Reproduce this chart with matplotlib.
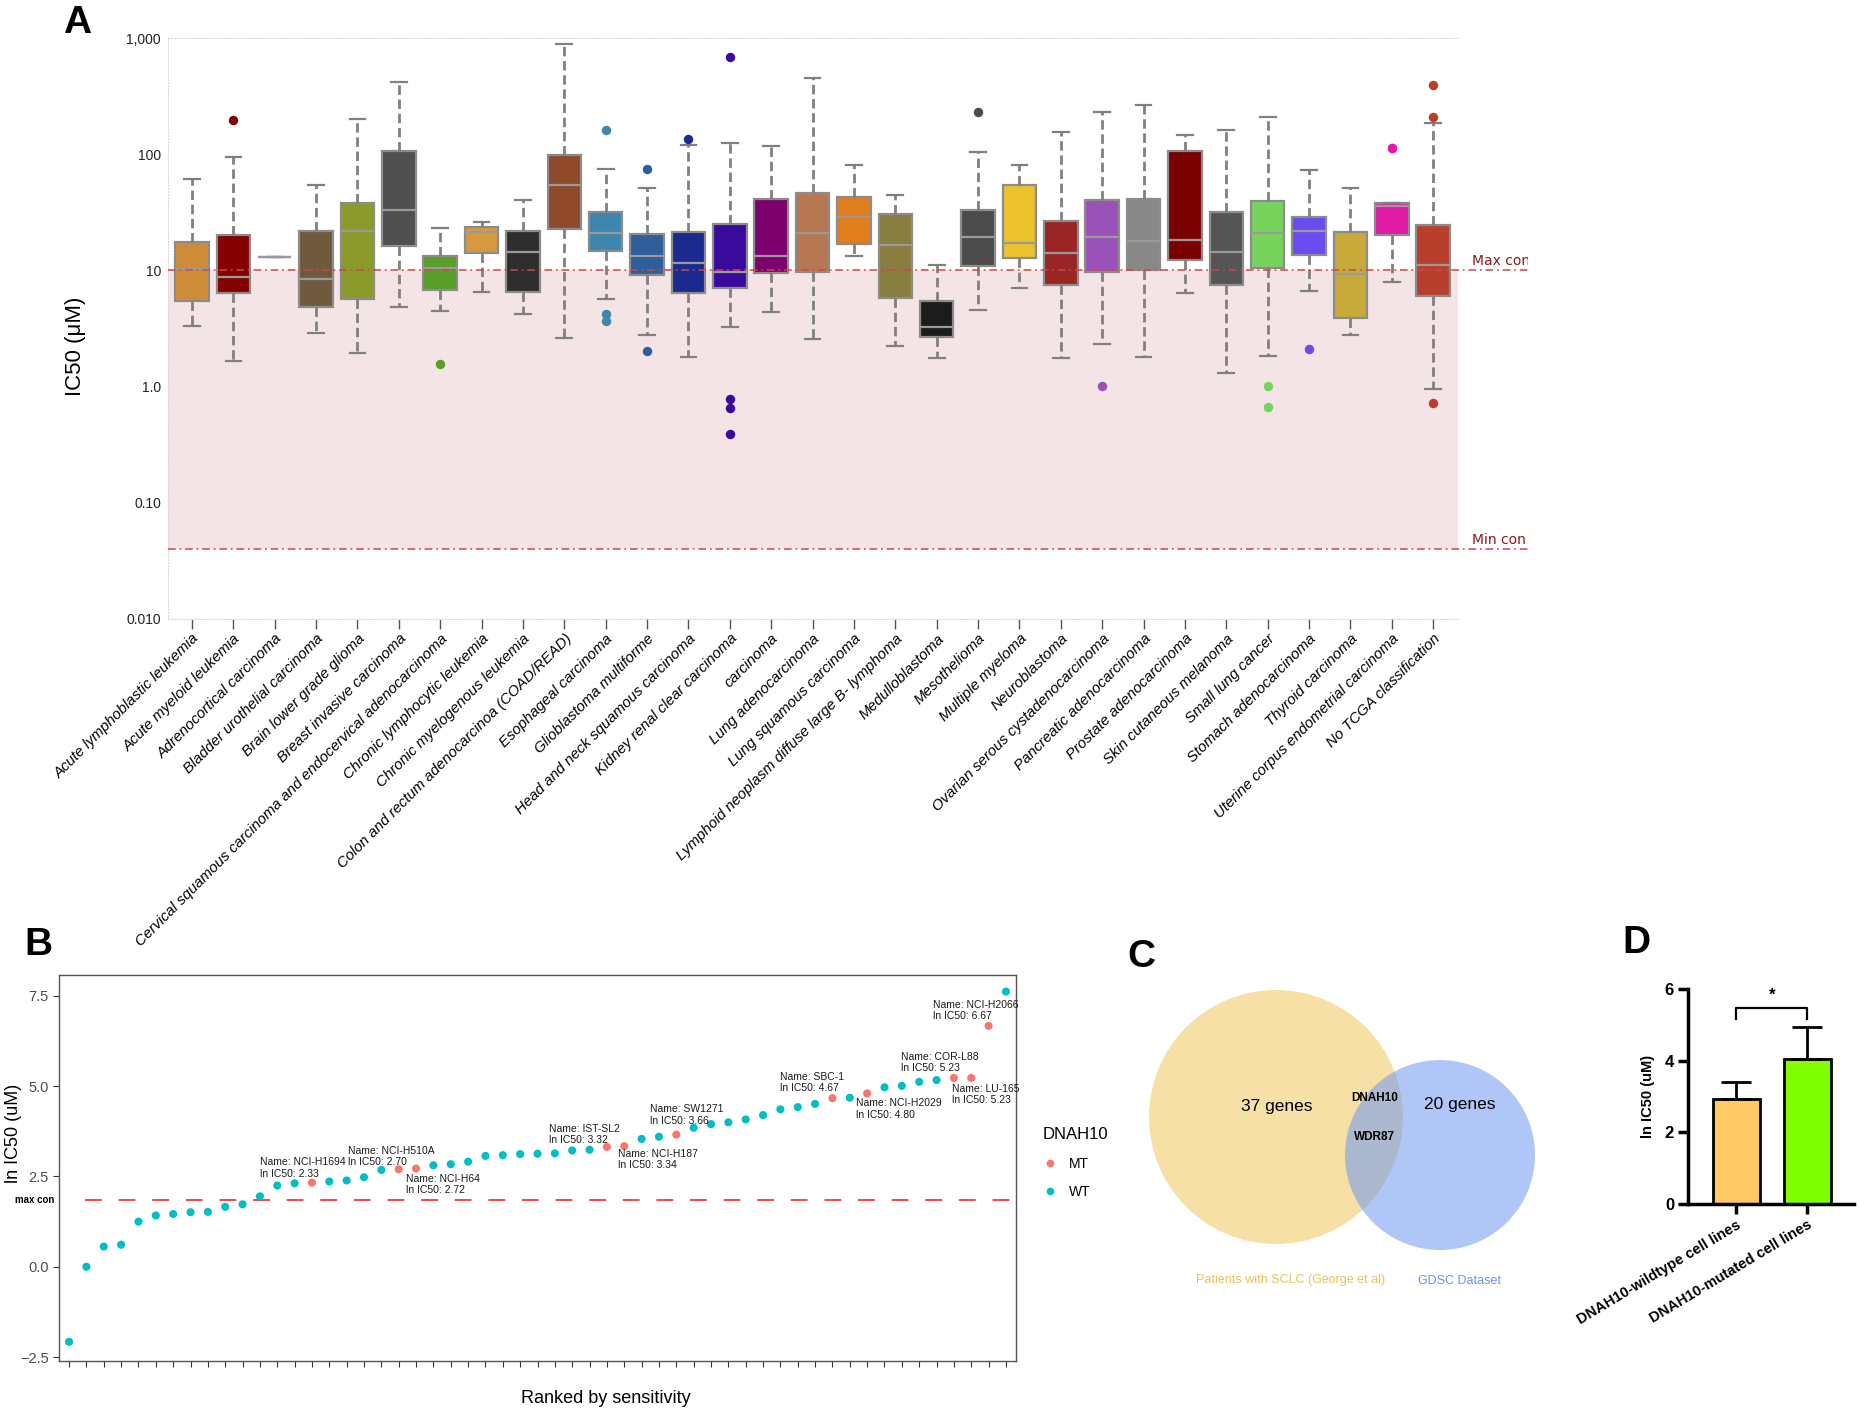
import numpy as np
import matplotlib
matplotlib.use("Agg")
import matplotlib.pyplot as plt
from matplotlib.patches import Circle
from matplotlib.lines import Line2D
from matplotlib.ticker import NullLocator
from matplotlib.transforms import Bbox, TransformedBbox, blended_transform_factory as blend

plt.rcParams['font.family'] = ['Liberation Sans', 'DejaVu Sans']

# ---------------- Panel A data (IC50, uM) ----------------
cancer_types = [
    "Acute lymphoblastic leukemia", "Acute myeloid leukemia", "Adrenocortical carcinoma",
    "Bladder urothelial carcinoma", "Brain lower grade glioma", "Breast invasive carcinoma",
    "Cervical squamous carcinoma and endocervical adenocarcinoma", "Chronic lymphocytic leukemia",
    "Chronic myelogenous leukemia", "Colon and rectum adenocarcinoa (COAD/READ)",
    "Esophageal carcinoma", "Glioblastoma multiforme", "Head and neck squamous carcinoma",
    "Kidney renal clear carcinoma", "carcinoma", "Lung adenocarcinoma", "Lung squamous carcinoma",
    "Lymphoid neoplasm diffuse large B- lymphoma", "Medulloblastoma", "Mesothelioma",
    "Multiple myeloma", "Neuroblastoma", "Ovarian serous cystadenocarcinoma",
    "Pancreatic adenocarcinoma", "Prostate adenocarcinoma", "Skin cutaneous melanoma",
    "Small lung cancer", "Stomach adenocarcinoma", "Thyroid carcinoma",
    "Uterine corpus endometrial carcinoma", "No TCGA classification",
]
whisker_low = [3.3, 1.67, 13.0, 2.88, 1.94, 4.89, 4.51, 6.53, 4.2, 2.64, 5.65, 2.77, 1.79, 3.24, 4.36,
               2.57, 13.3, 2.25, 1.76, 4.57, 7.07, 1.78, 2.31, 1.8, 6.4, 1.32, 1.84, 6.7, 2.8, 7.9, 0.96]
q1 = [5.5, 6.4, 13.0, 4.85, 5.72, 16.3, 6.75, 14.1, 6.5, 22.8, 14.7, 9.1, 6.45, 7.1, 9.46,
      9.7, 16.8, 5.8, 2.69, 11.0, 12.7, 7.5, 9.6, 10.0, 12.3, 7.5, 10.4, 13.5, 3.93, 20.0, 6.0]
median = [10.2, 8.7, 13.0, 8.5, 22.0, 33.2, 10.4, 21.3, 14.3, 53.8, 20.9, 13.2, 11.5, 9.6, 13.4,
          20.9, 28.9, 16.5, 3.29, 19.2, 17.3, 14.1, 19.2, 18.0, 18.2, 14.3, 20.9, 21.9, 9.27, 35.5, 11.2]
q3 = [17.7, 20.0, 13.0, 22.0, 37.7, 106, 13.4, 23.7, 21.7, 98, 31.9, 20.4, 21.6, 25.3, 41.3,
      45.9, 42.7, 30.7, 5.43, 33.0, 54.5, 26.5, 40.5, 41.3, 106, 31.7, 39.7, 28.9, 21.3, 38.4, 24.5]
whisker_high = [61.4, 93.8, 13.0, 54.2, 199, 418, 23.0, 26.0, 40.0, 888, 74.4, 51.0, 120, 124, 117,
                455, 80, 44.2, 11.2, 105, 81, 154, 232, 267, 147, 162, 209, 72.5, 51.4, 38.4, 185]
outliers = [[], [195], [], [], [], [], [1.56], [], [], [], [162, 4.2, 3.67], [75, 2.04], [135],
            [686, 0.78, 0.66, 0.39], [], [], [], [], [], [232], [], [], [1.02], [], [], [],
            [1.01, 0.67], [2.1], [], [112, 112], [396, 211, 0.72]]
box_colors = ["#CF8C37", "#850000", "#8C8C8C", "#705A3E", "#8B9A2B", "#505050", "#5A9E2A", "#D6993F",
              "#2E2E2E", "#8E4A2A", "#3E86AD", "#2F5E9C", "#1A2A8E", "#3A0A9C", "#7E006E", "#B87753",
              "#E07E1E", "#8A7E3E", "#1C1C1C", "#4B4B4B", "#EBC12E", "#9A2525", "#9A52B8", "#888888",
              "#7A0000", "#555555", "#78D25E", "#6A4CF0", "#C8AA3A", "#E01BA5", "#B83F2E"]
max_con_uM = 10.0
min_con_uM = 0.04

# ---------------- Panel B data ----------------
ln_ic50 = [-2.08, 0.00, 0.56, 0.61, 1.25, 1.42, 1.46, 1.51, 1.52, 1.66, 1.73, 1.95, 2.25, 2.31, 2.33,
           2.36, 2.39, 2.48, 2.68, 2.70, 2.72, 2.81, 2.84, 2.91, 3.07, 3.09, 3.12, 3.13, 3.14, 3.22,
           3.24, 3.32, 3.34, 3.54, 3.60, 3.66, 3.85, 3.95, 4.00, 4.08, 4.20, 4.36, 4.42, 4.51, 4.67,
           4.68, 4.80, 4.97, 5.01, 5.12, 5.17, 5.23, 5.23, 6.67, 7.62]
mt_ranks = [15, 20, 21, 32, 33, 36, 45, 47, 52, 53, 54]
mt_names = ["NCI-H1694", "NCI-H510A", "NCI-H64", "IST-SL2", "NCI-H187", "SW1271", "SBC-1",
            "NCI-H2029", "COR-L88", "LU-165", "NCI-H2066"]
max_con_ln = 1.84

# ---------------- Panel C data ----------------
venn_labels = ["Patients with SCLC (George et al)", "GDSC Dataset"]
venn_only = ["37 genes", "20 genes"]
venn_shared = ["DNAH10", "WDR87"]

# ---------------- Panel D data ----------------
groups = ["DNAH10-wildtype cell lines", "DNAH10-mutated cell lines"]
group_mean = [2.93, 4.05]
group_sd = [0.48, 0.89]
group_colors = ["#FFC966", "#7FFF00"]

W, H = 1859, 1411
fig = plt.figure(figsize=(W / 100, H / 100), dpi=100)


def ax_px(left, top, right, bottom):
    return fig.add_axes([left / W, 1 - bottom / H, (right - left) / W, (bottom - top) / H])


# =============== Panel A ===============
n = len(cancer_types)
ax = ax_px(168, 38, 1458, 619)
ax.set_yscale('log')
ax.set_ylim(0.01, 1000)
ax.set_xlim(-0.58, n - 1 + 0.6)
ax.axhspan(min_con_uM, max_con_uM, facecolor='#F5E4E6', edgecolor='none', zorder=0)
stats = [dict(med=median[i], q1=q1[i], q3=q3[i], whislo=whisker_low[i], whishi=whisker_high[i],
              fliers=outliers[i]) for i in range(n)]
bp = ax.bxp(stats, positions=np.arange(n), widths=0.81, capwidths=0.38, patch_artist=True,
            showfliers=True, manage_ticks=False,
            boxprops=dict(edgecolor='#8C8C8C', linewidth=1.6),
            whiskerprops=dict(color='#808080', linewidth=2.0, linestyle=(0, (3.4, 1.7))),
            capprops=dict(color='#808080', linewidth=1.6),
            medianprops=dict(color='#9A9A9A', linewidth=1.6),
            flierprops=dict(marker='o', markersize=6.8, markeredgewidth=0, linestyle='none'))
for patch, c in zip(bp['boxes'], box_colors):
    patch.set_facecolor(c)
for fl, c in zip(bp['fliers'], box_colors):
    fl.set_markerfacecolor(c)
    fl.set_markeredgecolor(c)

tr = blend(ax.transAxes, ax.transData)
line_end = (1528 - 168) / (1458 - 168)
clipbox = TransformedBbox(Bbox.from_extents(0, 0, 1528 / W, 1), fig.transFigure)
for val, lab in [(max_con_uM, 'Max con'), (min_con_uM, 'Min con')]:
    ax.plot([0, line_end], [val, val], transform=tr, clip_on=False, color='#C8484F', lw=1.1,
            linestyle=(0, (5, 2.5, 1.2, 2.5)), zorder=3)
    t = ax.annotate(lab, xy=(1.011, val), xycoords=tr, xytext=(0, 5), textcoords='offset pixels',
                    ha='left', va='baseline', fontsize=10, color='#8B1A1A',
                    family='DejaVu Sans', annotation_clip=False)
    t.set_clip_on(True)
    t.set_clip_box(clipbox)

for s in ['left', 'top', 'bottom']:
    ax.spines[s].set(color='#D9D9D9', linestyle=':', linewidth=0.8)
ax.spines['right'].set_visible(False)
ax.set_yticks([0.01, 0.1, 1, 10, 100, 1000], ["0.010", "0.10", "1.0", "10", "100", "1,000"])
ax.yaxis.set_minor_locator(NullLocator())
ax.tick_params(axis='y', length=0, pad=5, labelsize=10, labelcolor='#222222')
ax.set_xticks(np.arange(n))
ax.set_xticklabels(cancer_types, rotation=45, ha='right', va='top', rotation_mode='anchor',
                   fontstyle='italic', fontsize=10.8)
ax.tick_params(axis='x', length=7, width=1, color='#555555', pad=2)
ax.set_ylabel('IC50 (μM)', fontsize=16)
ax.yaxis.set_label_coords(-0.0636, 0.47)

# =============== Panel B ===============
ranks = np.arange(1, len(ln_ic50) + 1)
status = ['MT' if r in mt_ranks else 'WT' for r in ranks]
cmap = {'MT': '#F8766D', 'WT': '#00BFC4'}
axb = ax_px(59, 975, 1016, 1361)
axb.scatter(ranks, ln_ic50, c=[cmap[s] for s in status], s=34, linewidths=0, zorder=3)
axb.set_xlim(0.42, len(ln_ic50) + 0.58)
axb.set_ylim(-2.61, 8.08)
axb.axhline(max_con_ln, xmin=0.027, xmax=1, color='#E41A1C', lw=1.1, linestyle=(0, (11, 11)), zorder=2)
trb = blend(axb.transAxes, axb.transData)
axb.text(-0.005, max_con_ln, 'max con', transform=trb, ha='right', va='center', fontsize=7,
         fontweight='bold')
axb.set_xticks(ranks)
axb.set_xticklabels([])
axb.set_yticks([-2.5, 0, 2.5, 5, 7.5], ["\u22122.5", "0.0", "2.5", "5.0", "7.5"])
axb.tick_params(axis='both', length=4, width=0.8, color='#333333', labelsize=10.5,
                labelcolor='#4D4D4D')
for s in axb.spines.values():
    s.set(color='#555555', linewidth=1)
axb.set_ylabel('ln IC50 (uM)', fontsize=13)
axb.yaxis.set_label_coords(-0.039, 0.59)
axb.set_xlabel('Ranked by sensitivity', fontsize=13, labelpad=12)
axb.xaxis.set_label_coords(0.571, -0.075)

anno_layout = [(-52, 4, 'bottom'), (-51, 2, 'bottom'), (-10, -5, 'top'), (-58, 2, 'bottom'),
               (-6, -3, 'top'), (-26, 9, 'bottom'), (-52, 5, 'bottom'), (-11, -5, 'top'),
               (-53, 5, 'bottom'), (-19, -6, 'top'), (-56, 5, 'bottom')]
for r, nm, (dx, dy, va) in zip(mt_ranks, mt_names, anno_layout):
    v = ln_ic50[r - 1]
    axb.annotate(f"Name: {nm}\nln IC50: {v:.2f}", xy=(r, v), xytext=(dx, dy),
                 textcoords='offset pixels', ha='left', va=va, fontsize=7.5, linespacing=1.15,
                 color='#1A1A1A')

handles = [Line2D([], [], marker='o', linestyle='none', markersize=5.5, markeredgewidth=0,
                  markerfacecolor=cmap[k]) for k in ['MT', 'WT']]
axb.legend(handles, ['MT', 'WT'], title='DNAH10', loc='upper left',
           bbox_to_anchor=(1036 / W, 1 - 1120 / H), bbox_transform=fig.transFigure,
           frameon=False, fontsize=10, title_fontsize=12, handletextpad=0.9, labelspacing=1.05,
           borderpad=0, handlelength=1.0, alignment='left')

# =============== Panel C ===============
axc = ax_px(1100, 930, 1600, 1300)
axc.set_xlim(1100, 1600)
axc.set_ylim(1300, 930)
axc.axis('off')
axc.add_patch(Circle((1276, 1117), 127, facecolor='#F0C75E', alpha=0.55, edgecolor='none'))
axc.add_patch(Circle((1440, 1155), 95, facecolor='#6E98F0', alpha=0.55, edgecolor='none'))
axc.text(1277, 1107, venn_only[0], ha='center', va='center', fontsize=12.5)
axc.text(1460, 1105, venn_only[1], ha='center', va='center', fontsize=12.5)
axc.text(1375, 1098, venn_shared[0], ha='center', va='center', fontsize=8.5, fontweight='bold')
axc.text(1374, 1137, venn_shared[1], ha='center', va='center', fontsize=8.5, fontweight='bold')
axc.text(1291, 1280, venn_labels[0], ha='center', va='center', fontsize=9, color='#E8C25C')
axc.text(1460, 1281, venn_labels[1], ha='center', va='center', fontsize=9, color='#7090E8')

# =============== Panel D ===============
axd = ax_px(1688, 989, 1854, 1204)
xd = np.arange(len(groups))
axd.bar(xd, group_mean, width=0.66, color=group_colors, edgecolor='black', linewidth=2, zorder=2)
axd.errorbar(xd, group_mean, yerr=[np.zeros(len(groups)), group_sd], fmt='none', ecolor='black',
             elinewidth=2, capsize=10.5, capthick=2, zorder=3)
axd.set_xlim(-0.683, 1.655)
axd.set_ylim(0, 6)
axd.plot([0, 0, 1, 1], [5.17, 5.47, 5.47, 5.17], color='black', lw=1.6, clip_on=False)
axd.text(0.5, 5.62, '*', ha='center', va='bottom', fontsize=12, fontweight='bold')
for s in ['top', 'right']:
    axd.spines[s].set_visible(False)
for s in ['left', 'bottom']:
    axd.spines[s].set_linewidth(2.5)
axd.set_yticks([0, 2, 4, 6])
axd.set_yticklabels(['0', '2', '4', '6'], fontweight='bold', fontsize=12)
axd.set_xticks(xd)
axd.set_xticklabels(groups, rotation=31, ha='right', rotation_mode='anchor', fontweight='bold',
                    fontsize=10.5)
axd.tick_params(axis='both', length=7, width=2.5, pad=3)
axd.set_ylabel('ln IC50 (uM)', fontsize=10.5, fontweight='bold')
axd.yaxis.set_label_coords(-0.2, 0.5)

# =============== Panel letters ===============
for lab, x, y in [('A', 63, 33), ('B', 24, 955), ('C', 1127, 967), ('D', 1622, 953)]:
    fig.text(x / W, 1 - y / H, lab, fontsize=28, fontweight='bold', ha='left', va='baseline')

fig.savefig('out.png', dpi=100, facecolor='white')
